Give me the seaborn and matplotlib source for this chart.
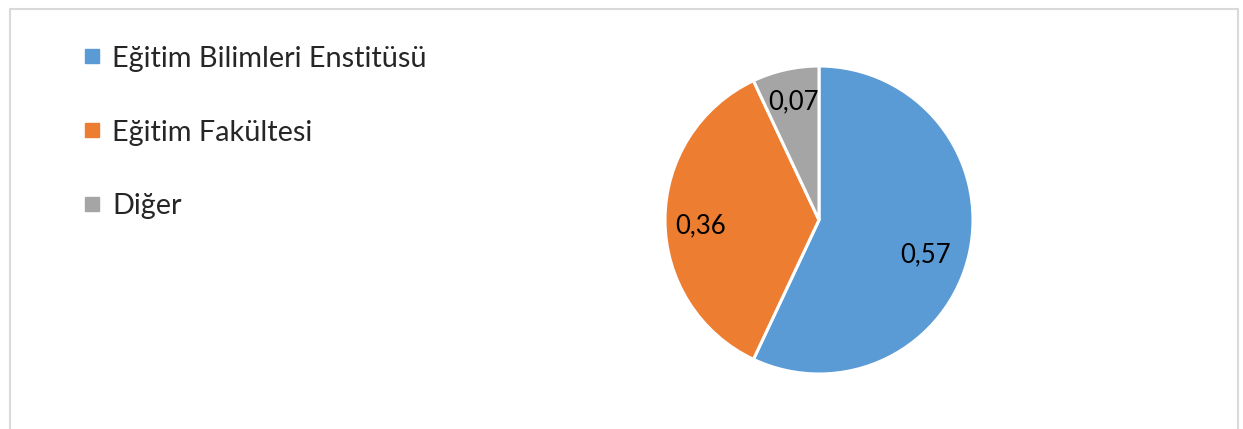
import matplotlib
matplotlib.use("Agg")
import numpy as np
import matplotlib.pyplot as plt
import seaborn as sns
from matplotlib.lines import Line2D
from matplotlib.patches import Rectangle

categories = ["Eğitim Bilimleri Enstitüsü", "Eğitim Fakültesi", "Diğer"]
values = [0.57, 0.36, 0.07]
colors = ["#5B9BD5", "#ED7D31", "#A5A5A5"]

sns.set_theme(style="white")
plt.rcParams["font.family"] = ["Lato", "DejaVu Sans"]

W, H = 1243, 429
fig = plt.figure(figsize=(W / 100, H / 100), dpi=100)
fig.patch.set_facecolor("white")

# outer chart frame
fig.patches.append(Rectangle((9.5 / W, -0.05), (1237.5 - 9.5) / W, 1.05 - 8.5 / H,
                             transform=fig.transFigure, fill=False,
                             edgecolor="#D9D9D9", linewidth=1.5))

cx, cy, R = 819, 220, 154
ax = fig.add_axes([(cx - R) / W, (H - cy - R) / H, 2 * R / W, 2 * R / H])
wedges, texts, autotexts = ax.pie(
    values, colors=colors, startangle=90, counterclock=False,
    wedgeprops=dict(edgecolor="white", linewidth=2.2),
    autopct=lambda p: f"{p / 100:.2f}".replace(".", ","),
    pctdistance=0.78, textprops=dict(fontsize=18.5, color="black"))

# label placement tweaks (radial distance, angle offset in degrees), Excel "best fit"-like
label_style = [(0.73, -5.5), (0.77, 2.8), (0.785, -0.5)]
for w, t, (rd, da) in zip(wedges, autotexts, label_style):
    ang = np.deg2rad((w.theta1 + w.theta2) / 2 + da)
    t.set_position((rd * np.cos(ang), rd * np.sin(ang)))

ax.set_xlim(-1, 1)
ax.set_ylim(-1, 1)
ax.set_aspect("equal")
ax.axis("off")

handles = [Line2D([], [], marker="s", linestyle="none", markersize=10,
                  markerfacecolor=c, markeredgecolor=c) for c in colors]
fig.legend(handles, categories, loc="upper left", bbox_to_anchor=(70 / W, 1 - 34 / H),
           frameon=False, fontsize=20.8, handlelength=0.7, handletextpad=0.35,
           labelspacing=1.66, borderaxespad=0)

fig.savefig("out.png", dpi=100, facecolor="white")
